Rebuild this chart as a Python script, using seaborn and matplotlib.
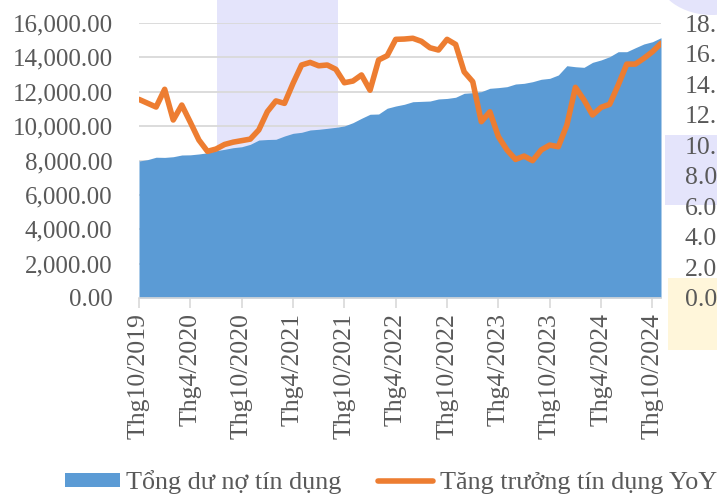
import numpy as np
import pandas as pd
import matplotlib.pyplot as plt
import seaborn as sns
from matplotlib.patches import Rectangle, Ellipse

sns.set_theme(style='white')
plt.rcParams['font.family'] = ['Liberation Serif', 'DejaVu Serif']

# monthly data, Oct 2019 -> Nov 2024
months = pd.period_range('2019-10', '2024-11', freq='M')

# total credit outstanding (left axis)
credit = [7970, 8050, 8190, 8180, 8220, 8320, 8330, 8380, 8450, 8570,
          8650, 8745, 8800, 8940, 9190, 9220, 9235, 9425, 9580, 9640,
          9775, 9815, 9870, 9930, 10010, 10200, 10455, 10690, 10705, 11040,
          11170, 11270, 11420, 11440, 11460, 11580, 11610, 11680, 11910, 11945,
          12005, 12200, 12240, 12295, 12450, 12490, 12585, 12725, 12780, 12975,
          13515, 13455, 13420, 13710, 13850, 14040, 14330, 14330, 14560, 14780,
          14910, 15145]

# YoY credit growth, % (right axis)
growth = [13.0, 12.75, 12.5, 13.66, 11.65, 12.63, 11.5, 10.34, 9.6, 9.75,
          10.05, 10.2, 10.3, 10.4, 11.0, 12.2, 12.9, 12.74, 14.05, 15.25,
          15.42, 15.2, 15.25, 14.97, 14.09, 14.2, 14.6, 13.6, 15.58, 15.86,
          16.93, 16.95, 17.0, 16.8, 16.38, 16.23, 16.93, 16.6, 14.8, 14.16,
          11.54, 12.19, 10.56, 9.69, 9.07, 9.29, 8.99, 9.69, 10.01, 9.9,
          11.32, 13.79, 12.96, 11.98, 12.48, 12.68, 13.94, 15.31, 15.31, 15.69,
          16.12, 16.67]

tick_labels = ['Thg10/2019', 'Thg4/2020', 'Thg10/2020', 'Thg4/2021',
               'Thg10/2021', 'Thg4/2022', 'Thg10/2022', 'Thg4/2023',
               'Thg10/2023', 'Thg4/2024', 'Thg10/2024']

blue = '#5B9BD5'
orange = '#ED7D31'
grey_txt = '#595959'
grid_col = '#D9D9D9'
lavender = '#E4E4FB'

fig, ax = plt.subplots(figsize=(7.17, 5.0), dpi=100)
fig.subplots_adjust(left=139/717, right=661/717, top=1-23/500, bottom=1-298/500)

# faint watermark shapes behind the chart
fig.add_artist(Rectangle((217/717, 1-298/500), 121/717, 298/500,
                         transform=fig.transFigure, color=lavender, zorder=-5, lw=0))
fig.add_artist(Rectangle((665/717, 1-205/500), 60/717, 70/500,
                         transform=fig.transFigure, color=lavender, zorder=-5, lw=0))
fig.add_artist(Ellipse((712/717, 1+25/500), 110/717, 80/500,
                       transform=fig.transFigure, color=lavender, zorder=-5, lw=0))
fig.add_artist(Rectangle((668/717, 1-350/500), 55/717, 72/500,
                         transform=fig.transFigure, color='#FFF6DA', zorder=-5, lw=0))
ax.set_facecolor('none')
fig.patch.set_facecolor('white')

x = np.arange(len(months))
area = ax.fill_between(x, credit, color=blue, lw=0, zorder=2,
                       label='Tổng dư nợ tín dụng')
ax.set_ylim(0, 16000)
ax.set_yticks(range(0, 16001, 2000))
ax.yaxis.set_major_formatter(lambda v, p: f"{v:,.2f}")
ax.grid(axis='y', color=grid_col, lw=1.3)
ax.set_axisbelow(True)
ax.set_xlim(0, len(x) - 1)
ax.set_xticks(x[::6])
ax.set_xticklabels(tick_labels, rotation=90)
ax.tick_params(axis='x', length=7, width=1.2, color=grid_col, pad=4,
               labelsize=18.5, labelcolor=grey_txt, bottom=True)
ax.tick_params(axis='y', length=0, pad=19, labelsize=18, labelcolor=grey_txt)
for s in ['top', 'left', 'right']:
    ax.spines[s].set_visible(False)
ax.spines['bottom'].set_color(grid_col)
ax.spines['bottom'].set_linewidth(1.2)
ax.set_xlabel('')

ax2 = ax.twinx()
sns.lineplot(x=x, y=growth, ax=ax2, color=orange, lw=4, legend=False)
line = ax2.get_lines()[0]
line.set_label('Tăng trưởng tín dụng YoY')
line.set_solid_joinstyle('round')
ax2.set_ylim(0, 18)
ax2.set_yticks(range(0, 19, 2))
ax2.yaxis.set_major_formatter(lambda v, p: f"{v:.2f}")
ax2.tick_params(axis='y', length=0, pad=17, labelsize=18.5, labelcolor=grey_txt)
ax2.grid(False)
ax2.set_ylabel('')
for s in ax2.spines.values():
    s.set_visible(False)

fig.legend([area, line], [area.get_label(), line.get_label()],
           loc='center left', bbox_to_anchor=(65/717, 1-482/500), ncol=2,
           frameon=False, fontsize=18.8, labelcolor=grey_txt,
           handlelength=2.1, handleheight=0.45, handletextpad=0.25,
           columnspacing=1.4, borderpad=0, borderaxespad=0)

fig.savefig('out.png', dpi=100)
